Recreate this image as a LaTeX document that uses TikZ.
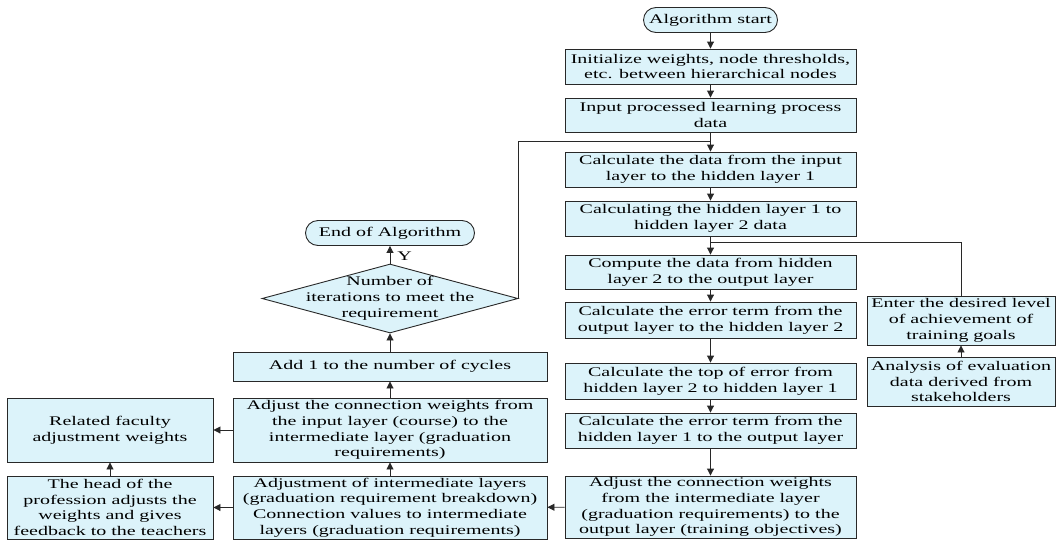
\documentclass[tikz,border=0pt]{standalone}
\usepackage{fontspec}
\setmainfont{Liberation Serif}[FakeStretch=1.515]
\usetikzlibrary{arrows.meta,shapes.geometric}
\definecolor{boxfill}{RGB}{220,243,250}
\definecolor{linecol}{RGB}{40,40,40}
\begin{document}
\begin{tikzpicture}[x=1pt,y=-1pt,
  every node/.style={font=\fontsize{13.2}{15.8}\selectfont},
  box/.style={draw=linecol, fill=boxfill, line width=0.9pt, inner sep=0pt, align=center},
  mainbox/.style={box, minimum width=291pt},
  midbox/.style={box, minimum width=314pt},
  leftbox/.style={box, minimum width=206pt},
  rightbox/.style={box, minimum width=188pt, minimum height=49pt},
  term/.style={box, rounded corners=12.5pt, minimum height=25pt},
  arr/.style={draw=linecol, line width=0.9pt, -{Triangle[length=7pt,width=7pt]}},
  ln/.style={draw=linecol, line width=0.9pt}]
\useasboundingbox (0,0) rectangle (1057,541);

% main column
\node[term, minimum width=134pt] (start) at (710.5,20) {Algorithm start};
\node[mainbox, minimum height=35pt] (init) at (710.5,66.5) {Initialize weights, node thresholds,\\ etc. between hierarchical nodes};
\node[mainbox, minimum height=34pt] (input) at (710.5,115) {Input processed learning process\\ data};
\node[mainbox, minimum height=35pt] (calc1) at (710.5,169.5) {Calculate the data from the input\\ layer to the hidden layer 1};
\node[mainbox, minimum height=35pt] (calc2) at (710.5,218.5) {Calculating the hidden layer 1 to\\ hidden layer 2 data};
\node[mainbox, minimum height=34pt] (compute) at (710.5,272) {Compute the data from hidden\\ layer 2 to the output layer};
\node[mainbox, minimum height=36pt] (err) at (710.5,320) {Calculate the error term from the\\ output layer to the hidden layer 2};
\node[mainbox, minimum height=36pt] (top) at (710.5,381) {Calculate the top of error from\\ hidden layer 2 to hidden layer 1};
\node[mainbox, minimum height=35pt] (errh) at (710.5,430.5) {Calculate the error term from the\\ hidden layer 1 to the output layer};
\node[mainbox, minimum height=62pt] (adj) at (710.5,507) {Adjust the connection weights\\ from the intermediate layer\\ (graduation requirements) to the\\ output layer (training objectives)};

% middle column
\node[term, minimum width=169pt] (end) at (390,233) {End of Algorithm};
\node[diamond, draw=linecol, fill=boxfill, line width=0.9pt, inner sep=0pt, minimum width=256pt, minimum height=69pt] (dia) at (390,298.5) {};
\node[align=center, inner sep=0pt] (diatext) at (dia.center) {Number of\\ iterations to meet the\\ requirement};
\node[midbox, minimum height=29pt] (add) at (390,366.5) {Add 1 to the number of cycles};
\node[midbox, minimum height=64pt] (adjc) at (390,430) {Adjust the connection weights from\\ the input layer (course) to the\\ intermediate layer (graduation\\ requirements)};
\node[midbox, minimum height=63pt] (adji) at (390,507.5) {Adjustment of intermediate layers\\ (graduation requirement breakdown)\\ Connection values to intermediate\\ layers (graduation requirements)};

% left column
\node[leftbox, minimum height=64pt] (rel) at (110,430) {Related faculty\\ adjustment weights};
\node[leftbox, minimum height=63pt] (head) at (110,507.5) {The head of the\\ profession adjusts the\\ weights and gives\\ feedback to the teachers};

% right column
\node[rightbox] (enter) at (961,320.5) {Enter the desired level\\ of achievement of\\ training goals};
\node[rightbox] (anal) at (961,381.5) {Analysis of evaluation\\ data derived from\\ stakeholders};

\coordinate (loopc) at (710.5,141);
\coordinate (brc) at (710.5,242);

% connectors
\draw[arr] (start) -- (init);
\draw[arr] (init) -- (input);
\draw[arr] (input) -- (calc1);
\draw[arr] (calc1) -- (calc2);
\draw[arr] (calc2) -- (compute);
\draw[arr] (compute) -- (err);
\draw[arr] (err) -- (top);
\draw[arr] (top) -- (errh);
\draw[arr] (errh) -- (adj);
\draw[arr] (adj) -- (adji);
\draw[arr] (adji) -- (adjc);
\draw[arr] (adji) -- (head);
\draw[arr] (head) -- (rel);
\draw[arr] (adjc) -- (rel);
\draw[arr] (adjc) -- (add);
\draw[arr] (add) -- (dia.south);
\draw[arr] (dia.north) -- node[right, inner sep=7pt, pos=0.4] {Y} (end);
\draw[ln] (dia.east) |- (loopc);
\draw[ln] (enter.north) |- (brc);
\draw[arr] (anal) -- (enter);
\end{tikzpicture}
\end{document}
